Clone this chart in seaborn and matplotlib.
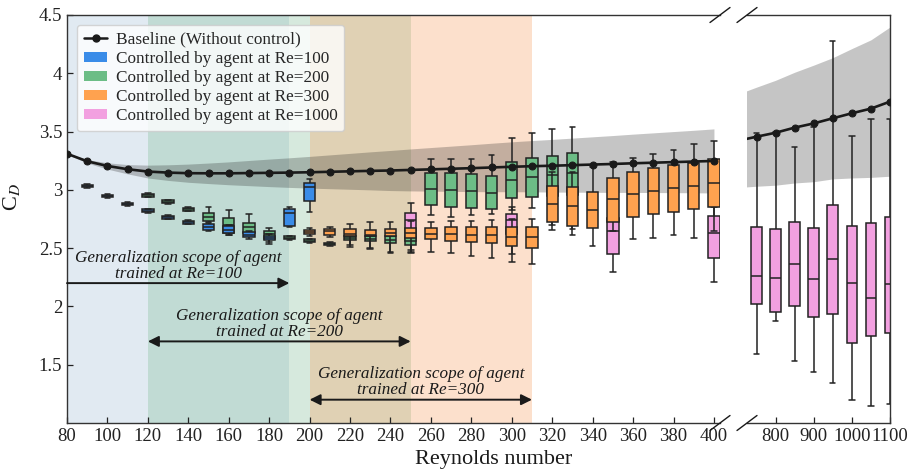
import numpy as np
import pandas as pd
import matplotlib
matplotlib.use("Agg")
import matplotlib.pyplot as plt
from matplotlib.lines import Line2D
from matplotlib.patches import Patch
from matplotlib.ticker import FuncFormatter
import seaborn as sns

sns.set_theme(style="ticks")
plt.rcParams["font.family"] = ["Liberation Serif", "DejaVu Serif"]
plt.rcParams["mathtext.fontset"] = "stix"

# ---------------- baseline (no control): mean C_D and spread ----------------
base_re_low = [80, 90, 100, 110, 120, 130, 140, 150, 160, 170, 180, 190, 200,
               210, 220, 230, 240, 250, 260, 270, 280, 290, 300, 310, 320, 330,
               340, 350, 360, 370, 380, 390, 400]
base_cd_low = [3.310, 3.245, 3.205, 3.177, 3.157, 3.148, 3.143, 3.142, 3.142,
               3.144, 3.146, 3.148, 3.151, 3.155, 3.159, 3.163, 3.166, 3.171,
               3.176, 3.181, 3.186, 3.192, 3.198, 3.203, 3.207, 3.212, 3.217,
               3.222, 3.228, 3.233, 3.238, 3.243, 3.248]
base_sd_low = [0.005, 0.015, 0.027, 0.040, 0.055, 0.067, 0.078, 0.088, 0.098,
               0.108, 0.118, 0.127, 0.136, 0.145, 0.154, 0.163, 0.172, 0.180,
               0.187, 0.194, 0.201, 0.208, 0.214, 0.220, 0.226, 0.232, 0.238,
               0.244, 0.250, 0.256, 0.262, 0.268, 0.275]

base_re_high = [700, 750, 800, 850, 900, 950, 1000, 1050, 1100]
base_cd_high = [3.420, 3.456, 3.490, 3.534, 3.570, 3.614, 3.657, 3.697, 3.757]
base_sd_high = [0.400, 0.425, 0.450, 0.475, 0.500, 0.520, 0.555, 0.590, 0.640]

# ------------- controlled cases: (whisker low, Q1, median, Q3, whisker high) -------------
re100_pos = [90, 100, 110, 120, 130, 140, 150, 160, 170, 180, 190, 200]
re100_box = [
    (3.015, 3.021, 3.033, 3.045, 3.051),
    (2.930, 2.936, 2.948, 2.960, 2.966),
    (2.861, 2.867, 2.879, 2.891, 2.897),
    (2.804, 2.810, 2.822, 2.834, 2.840),
    (2.747, 2.753, 2.765, 2.777, 2.783),
    (2.704, 2.710, 2.722, 2.734, 2.740),
    (2.650, 2.656, 2.685, 2.708, 2.718),
    (2.613, 2.633, 2.656, 2.690, 2.700),
    (2.576, 2.593, 2.613, 2.642, 2.650),
    (2.550, 2.572, 2.588, 2.605, 2.618),
    (2.680, 2.693, 2.804, 2.833, 2.851),
    (2.813, 2.905, 3.022, 3.056, 3.090),
]

re200_pos = [120, 130, 140, 150, 160, 170, 180, 190, 200, 210, 220, 230, 240,
             250, 260, 270, 280, 290, 300, 310, 320, 330]
re200_box = [
    (2.936, 2.942, 2.954, 2.966, 2.972),
    (2.881, 2.887, 2.899, 2.911, 2.917),
    (2.815, 2.821, 2.833, 2.845, 2.851),
    (2.720, 2.733, 2.770, 2.804, 2.856),
    (2.610, 2.628, 2.699, 2.756, 2.828),
    (2.605, 2.628, 2.679, 2.713, 2.793),
    (2.533, 2.576, 2.622, 2.650, 2.670),
    (2.572, 2.578, 2.590, 2.602, 2.608),
    (2.546, 2.552, 2.564, 2.576, 2.582),
    (2.518, 2.524, 2.536, 2.548, 2.554),
    (2.513, 2.570, 2.590, 2.605, 2.640),
    (2.493, 2.562, 2.580, 2.600, 2.640),
    (2.456, 2.542, 2.570, 2.600, 2.650),
    (2.470, 2.527, 2.560, 2.595, 2.650),
    (2.785, 2.873, 3.008, 3.148, 3.262),
    (2.770, 2.856, 2.999, 3.142, 3.265),
    (2.785, 2.842, 2.991, 3.136, 3.268),
    (2.790, 2.833, 2.976, 3.122, 3.299),
    (2.828, 2.928, 3.085, 3.242, 3.442),
    (2.842, 2.942, 3.108, 3.271, 3.485),
    (2.700, 2.950, 3.128, 3.291, 3.520),
    (2.660, 2.960, 3.148, 3.314, 3.542),
]

re300_pos = [200, 210, 220, 230, 240, 250, 260, 270, 280, 290, 300, 310, 320,
             330, 340, 350, 360, 370, 380, 390, 400]
re300_box = [
    (2.600, 2.622, 2.642, 2.656, 2.670),
    (2.593, 2.613, 2.648, 2.665, 2.679),
    (2.530, 2.605, 2.622, 2.662, 2.705),
    (2.500, 2.600, 2.613, 2.656, 2.727),
    (2.470, 2.600, 2.628, 2.665, 2.727),
    (2.480, 2.585, 2.628, 2.676, 2.730),
    (2.470, 2.576, 2.622, 2.676, 2.720),
    (2.456, 2.562, 2.619, 2.684, 2.730),
    (2.436, 2.553, 2.613, 2.680, 2.730),
    (2.418, 2.542, 2.613, 2.684, 2.740),
    (2.384, 2.521, 2.599, 2.684, 2.750),
    (2.362, 2.499, 2.593, 2.684, 2.750),
    (2.656, 2.722, 2.879, 3.033, 3.150),
    (2.613, 2.693, 2.862, 3.028, 3.150),
    (2.519, 2.676, 2.828, 2.985, 3.200),
    (2.650, 2.727, 2.919, 3.099, 3.240),
    (2.576, 2.765, 2.962, 3.151, 3.271),
    (2.585, 2.793, 2.993, 3.185, 3.308),
    (2.613, 2.808, 3.014, 3.211, 3.342),
    (2.585, 2.836, 3.036, 3.233, 3.391),
    (2.650, 2.851, 3.062, 3.262, 3.422),
]

re1000_pos_low = [250, 300, 350, 400]
re1000_box_low = [
    (2.460, 2.560, 2.742, 2.800, 2.890),
    (2.450, 2.620, 2.745, 2.793, 2.850),
    (2.293, 2.450, 2.645, 2.760, 2.900),
    (2.213, 2.413, 2.630, 2.779, 2.850),
]
re1000_pos_high = [750, 800, 850, 900, 950, 1000, 1050, 1100]
re1000_box_high = [
    (1.590, 2.021, 2.264, 2.684, 3.485),
    (1.878, 1.950, 2.247, 2.662, 3.500),
    (1.533, 2.007, 2.362, 2.727, 3.371),
    (1.436, 1.910, 2.233, 2.670, 3.537),
    (1.341, 1.936, 2.405, 2.870, 4.280),
    (1.198, 1.684, 2.199, 2.693, 3.465),
    (1.147, 1.750, 2.075, 2.719, 3.608),
    (1.161, 1.770, 2.193, 2.765, 3.608),
]

legend_labels = ["Baseline (Without control)",
                 "Controlled by agent at Re=100",
                 "Controlled by agent at Re=200",
                 "Controlled by agent at Re=300",
                 "Controlled by agent at Re=1000"]
x_ticks_low = list(range(80, 401, 20))
x_ticks_high = [800, 900, 1000, 1100]
y_ticks = [1.5, 2, 2.5, 3, 3.5, 4, 4.5]

C_BLUE = "#3a8ce8"
C_GREEN = "#6cbd86"
C_ORANGE = "#ffa24f"
C_PINK = "#f2a0e0"
EDGE = "#222222"


def box_frame(pos, stats):
    """Five-number summaries -> long table; quartiles of 5 points are exact."""
    rows = [(p, v) for p, s in zip(pos, stats) for v in s]
    return pd.DataFrame(rows, columns=["Re", "CD"])


def draw_boxes(ax, pos, stats, color, width):
    sns.boxplot(data=box_frame(pos, stats), x="Re", y="CD", native_scale=True,
                width=width, color=color, saturation=1, linecolor=EDGE,
                linewidth=1.1, whis=(0, 100), showfliers=False, ax=ax)


fig = plt.figure(figsize=(9.11, 4.73), dpi=100)
ax = fig.add_axes([67 / 911, 50 / 473, 653 / 911, 408 / 473])
axr = fig.add_axes([747 / 911, 50 / 473, 143 / 911, 408 / 473])

# generalization scope of each trained agent
ax.axvspan(80, 190, color="#4682b4", alpha=0.16, lw=0, zorder=0)
ax.axvspan(120, 250, color="#7ab991", alpha=0.30, lw=0, zorder=0)
ax.axvspan(200, 310, color="#f89b58", alpha=0.30, lw=0, zorder=0)

# low-Re panel
ax.fill_between(base_re_low, np.array(base_cd_low) - base_sd_low,
                np.array(base_cd_low) + base_sd_low, color="k", alpha=0.25,
                lw=0, zorder=1)
draw_boxes(ax, re1000_pos_low, re1000_box_low, C_PINK, 0.112)
draw_boxes(ax, re200_pos, re200_box, C_GREEN, 0.56)
draw_boxes(ax, re300_pos, re300_box, C_ORANGE, 0.56)
draw_boxes(ax, re100_pos, re100_box, C_BLUE, 0.56)
sns.lineplot(x=base_re_low, y=base_cd_low, ax=ax, color="k", marker="o",
             markersize=5, markeredgecolor="k", linewidth=1.9, zorder=6)

# high-Re panel
axr.fill_between(base_re_high, np.array(base_cd_high) - base_sd_high,
                 np.array(base_cd_high) + base_sd_high, color="k", alpha=0.25,
                 lw=0, zorder=1)
draw_boxes(axr, re1000_pos_high, re1000_box_high, C_PINK, 0.56)
sns.lineplot(x=base_re_high, y=base_cd_high, ax=axr, color="k", marker="o",
             markersize=5, markeredgecolor="k", linewidth=1.9, zorder=6)

# scope arrows and captions
arrow_kw = dict(color="k", lw=1.4, mutation_scale=16, shrinkA=0, shrinkB=0)
ax.annotate("", xy=(190, 2.2), xytext=(80, 2.2),
            arrowprops=dict(arrowstyle="-|>", **arrow_kw), zorder=7)
ax.annotate("", xy=(250, 1.7), xytext=(120, 1.7),
            arrowprops=dict(arrowstyle="<|-|>", **arrow_kw), zorder=7)
ax.annotate("", xy=(310, 1.2), xytext=(200, 1.2),
            arrowprops=dict(arrowstyle="<|-|>", **arrow_kw), zorder=7)
cap_kw = dict(ha="center", va="center", style="italic", fontsize=12.3,
              linespacing=1.0, color="#1a1a1a", zorder=7)
ax.text(135, 2.35, "Generalization scope of agent\ntrained at Re=100", **cap_kw)
ax.text(185, 1.85, "Generalization scope of agent\ntrained at Re=200", **cap_kw)
ax.text(255, 1.35, "Generalization scope of agent\ntrained at Re=300", **cap_kw)

# axes styling
for a in (ax, axr):
    a.set_ylim(1.0, 4.5)
    a.set_xlabel("")
    a.set_ylabel("")
    a.tick_params(direction="in", length=4, width=0.9, labelsize=13.5,
                  colors="#222222")
    for s in a.spines.values():
        s.set_linewidth(1.0)
        s.set_color("#333333")
ax.set_xlim(80, 403)
axr.set_xlim(725, 1100)
ax.set_xticks(x_ticks_low)
axr.set_xticks(x_ticks_high)
ax.set_yticks(y_ticks)
axr.set_yticks(y_ticks)
ax.yaxis.set_major_formatter(FuncFormatter(lambda v, _: f"{v:g}"))
axr.tick_params(axis="y", left=False, labelleft=False)
ax.spines["right"].set_visible(False)
axr.spines["left"].set_visible(False)

ax.set_ylabel(r"C$_D$", fontsize=16, color="#1a1a1a")
ax.yaxis.set_label_coords(-0.069, 0.554)
fig.text(0.542, 0.028, "Reynolds number", ha="center", va="center",
         fontsize=16, color="#1a1a1a")

# axis break marks
dy = 7.5 / 408
for a, x0, dx in ((ax, 1.0, 10 / 653), (axr, 0.0, 10 / 143)):
    for y0 in (0.0, 1.0):
        a.plot([x0 - dx, x0 + dx], [y0 - dy, y0 + dy], transform=a.transAxes,
               color="k", lw=1.0, clip_on=False, zorder=8)

handles = [Line2D([], [], color="k", marker="o", markersize=5, lw=1.8),
           Patch(facecolor=C_BLUE, edgecolor="none"),
           Patch(facecolor=C_GREEN, edgecolor="none"),
           Patch(facecolor=C_ORANGE, edgecolor="none"),
           Patch(facecolor=C_PINK, edgecolor="none")]
leg = ax.legend(handles, legend_labels, loc="upper left",
                bbox_to_anchor=(0.0153, 0.9755), borderaxespad=0,
                fontsize=12.4, labelspacing=0.18, handlelength=1.35,
                handleheight=0.55, handletextpad=0.5, borderpad=0.4,
                frameon=True, fancybox=True, framealpha=0.8,
                edgecolor="#cccccc")
leg.set_zorder(10)

fig.savefig("out.png", dpi=100)
